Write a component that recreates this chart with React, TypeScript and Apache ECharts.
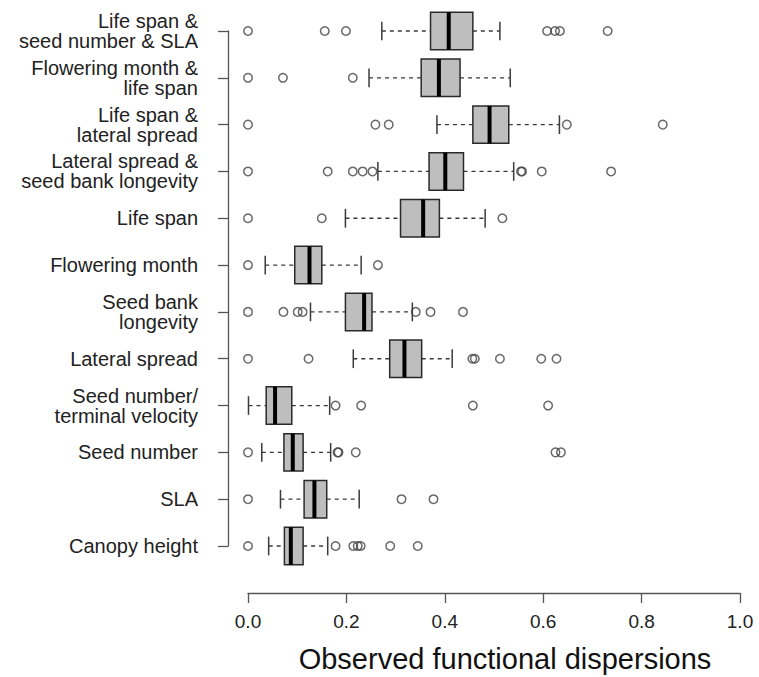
import React, { useEffect, useRef } from "react";
import * as echarts from "echarts";

const categories = [
  "Life span &\nseed number & SLA",
  "Flowering month &\nlife span",
  "Life span &\nlateral spread",
  "Lateral spread &\nseed bank longevity",
  "Life span",
  "Flowering month",
  "Seed bank\nlongevity",
  "Lateral spread",
  "Seed number/\nterminal velocity",
  "Seed number",
  "SLA",
  "Canopy height",
];
const whiskerLow = [0.272, 0.246, 0.384, 0.264, 0.198, 0.035, 0.127, 0.214, 0.001, 0.028, 0.066, 0.042];
const q1 = [0.371, 0.352, 0.457, 0.368, 0.31, 0.095, 0.198, 0.288, 0.037, 0.073, 0.114, 0.074];
const median = [0.408, 0.388, 0.491, 0.401, 0.356, 0.125, 0.236, 0.318, 0.055, 0.091, 0.135, 0.087];
const q3 = [0.457, 0.431, 0.53, 0.438, 0.389, 0.15, 0.252, 0.353, 0.089, 0.112, 0.16, 0.112];
const whiskerHigh = [0.512, 0.533, 0.633, 0.54, 0.482, 0.23, 0.334, 0.415, 0.166, 0.168, 0.226, 0.162];
const outliers = [
  [0.0, 0.156, 0.199, 0.608, 0.624, 0.634, 0.731],
  [0.0, 0.071, 0.213],
  [0.0, 0.259, 0.286, 0.648, 0.843],
  [0.0, 0.162, 0.213, 0.233, 0.253, 0.555, 0.557, 0.597, 0.738],
  [0.0, 0.15, 0.517],
  [0.0, 0.264],
  [0.0, 0.072, 0.101, 0.111, 0.341, 0.371, 0.437],
  [0.0, 0.123, 0.456, 0.461, 0.512, 0.596, 0.627],
  [0.178, 0.23, 0.457, 0.61],
  [0.0, 0.182, 0.184, 0.219, 0.625, 0.636],
  [0.0, 0.312, 0.377],
  [0.0, 0.178, 0.214, 0.223, 0.229, 0.289, 0.345],
];
const xAxisTitle = "Observed functional dispersions";

const FONT = "'Liberation Sans', Arial, Helvetica, sans-serif";

export default function App() {
  const ref = useRef<HTMLDivElement>(null);
  useEffect(() => {
    if (!ref.current) return;
    const chart = echarts.init(ref.current, null, { renderer: "svg" });

    const boxData = categories.map((_, i) => [i, whiskerLow[i], q1[i], median[i], q3[i], whiskerHigh[i]]);
    const outlierData: number[][] = [];
    outliers.forEach((arr, i) => arr.forEach((v) => outlierData.push([v, i])));

    const lineCol = "#3a3a3a";
    const axisCol = "#555";

    chart.setOption({
      animation: false,
      backgroundColor: "#ffffff",
      grid: { left: 248, right: 19, top: 31, bottom: 131, containLabel: false, outerBoundsMode: "none" },
      graphic: [
        {
          type: "text",
          x: 505,
          y: 659,
          style: {
            text: xAxisTitle,
            fontSize: 29,
            fontFamily: FONT,
            fill: "#111",
            align: "center",
            verticalAlign: "middle",
          },
        },
      ],
      xAxis: {
        type: "value",
        position: "bottom",
        min: 0,
        max: 1,
        interval: 0.2,
        offset: 47,
        axisLine: { show: true, onZero: false, lineStyle: { color: axisCol, width: 1.3 } },
        axisTick: { show: true, length: 10, inside: false, lineStyle: { color: axisCol, width: 1.3 } },
        splitLine: { show: false },
        axisLabel: {
          formatter: (v: number) => v.toFixed(1),
          fontSize: 19,
          fontFamily: FONT,
          color: "#222",
          margin: 19,
        },
      },
      yAxis: {
        type: "value",
        position: "left",
        min: 0,
        max: 11,
        interval: 1,
        inverse: true,
        offset: 20,
        axisLine: { show: true, onZero: false, lineStyle: { color: axisCol, width: 1.3 } },
        axisTick: { show: true, length: 10, inside: false, lineStyle: { color: axisCol, width: 1.3 } },
        splitLine: { show: false },
        axisLabel: {
          formatter: (v: number) => categories[Math.round(v)] ?? "",
          fontSize: 20,
          lineHeight: 20,
          fontFamily: FONT,
          color: "#222",
          margin: 30,
          align: "right",
        },
      },
      series: [
        {
          type: "custom",
          clip: false,
          data: boxData,
          encode: { x: [1, 2, 3, 4, 5], y: 0 },
          renderItem: (params: any, api: any) => {
            const idx = api.value(0);
            const pLow = api.coord([api.value(1), idx]);
            const pQ1 = api.coord([api.value(2), idx]);
            const pMed = api.coord([api.value(3), idx]);
            const pQ3 = api.coord([api.value(4), idx]);
            const pHigh = api.coord([api.value(5), idx]);
            const step = api.size([0, 1])[1];
            const h = step * 0.8;
            const cap = h * 0.5;
            const y = pMed[1];
            const dash = { stroke: lineCol, lineWidth: 1.3, lineDash: [4, 4] };
            const solid = { stroke: lineCol, lineWidth: 1.5 };
            return {
              type: "group",
              children: [
                { type: "line", shape: { x1: pLow[0], y1: y, x2: pQ1[0], y2: y }, style: dash },
                { type: "line", shape: { x1: pQ3[0], y1: y, x2: pHigh[0], y2: y }, style: dash },
                { type: "line", shape: { x1: pLow[0], y1: y - cap / 2, x2: pLow[0], y2: y + cap / 2 }, style: solid },
                { type: "line", shape: { x1: pHigh[0], y1: y - cap / 2, x2: pHigh[0], y2: y + cap / 2 }, style: solid },
                {
                  type: "rect",
                  shape: { x: pQ1[0], y: y - h / 2, width: pQ3[0] - pQ1[0], height: h },
                  style: { fill: "#bebebe", stroke: "#2a2a2a", lineWidth: 1.5 },
                },
                {
                  type: "line",
                  shape: { x1: pMed[0], y1: y - h / 2, x2: pMed[0], y2: y + h / 2 },
                  style: { stroke: "#000", lineWidth: 4 },
                },
              ],
            };
          },
        },
        {
          type: "scatter",
          data: outlierData,
          symbol: "circle",
          symbolSize: 8.5,
          itemStyle: { color: "rgba(255,255,255,0)", borderColor: "#444", borderWidth: 1.5 },
          clip: false,
        },
      ],
    });
    return () => chart.dispose();
  }, []);
  return (
    <div
      ref={ref}
      style={{ position: "fixed", left: 0, top: 0, width: 759, height: 677, background: "#fff" }}
    />
  );
}
